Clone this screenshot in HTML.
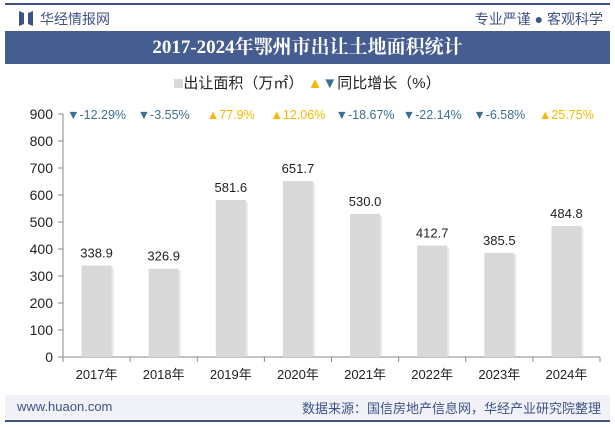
<!DOCTYPE html>
<html><head><meta charset="utf-8"><style>
body{margin:0;width:615px;height:427px;background:#fff;font-family:"Liberation Sans","Noto Sans CJK SC",sans-serif;position:relative;overflow:hidden}
.abs{position:absolute}
</style></head><body>
<div class="abs" style="left:5px;top:3px;width:605px;height:2px;background:#3d5288"></div>
<svg class="abs" style="left:19px;top:11px" width="14" height="15"><polygon points="0,0 5,2 5,13 0,15" fill="#3d5288"/><polygon points="14,0 9,2 9,13 14,15" fill="#3d5288"/></svg>
<div class="abs" style="left:40px;top:9px;font-size:14px;color:#3d5288">华经情报网</div>
<div class="abs" style="right:12px;top:9px;font-size:14px;color:#3d5288">专业严谨 ● 客观科学</div>
<div class="abs" style="left:5px;top:31px;width:605px;height:33px;background:#465d91;color:#fff;font-family:'Liberation Serif','Noto Serif CJK SC',serif;font-weight:bold;font-size:19px;line-height:33px;text-align:center">2017-2024年鄂州市出让土地面积统计</div>
<div class="abs" style="left:0;width:615px;top:72px;text-align:center;font-size:15px;color:#222">
<span><span style="display:inline-block;width:9px;height:9px;background:#d9d9d9"></span>出让面积（万㎡）</span>
<span><span style="color:#f5b800">▲</span><span style="color:#3d7090">▼</span>同比增长（%）</span></div>
<svg class="abs" style="left:0;top:0" width="615" height="427">
<g id="g"></g></svg>
<div class="abs" style="left:5px;top:395px;width:605px;height:24px;background:#f0f2f7"></div>
<div class="abs" style="left:17px;top:399px;font-size:13px;color:#3d5288">www.huaon.com</div>
<div class="abs" style="right:14px;top:398px;font-size:13px;color:#3d5288">数据来源：国信房地产信息网，华经产业研究院整理</div>
<div class="abs" style="left:5px;top:420px;width:605px;height:2px;background:#3d5288"></div>
<script>
const categories=["2017年","2018年","2019年","2020年","2021年","2022年","2023年","2024年"];
const values=[338.9,326.9,581.6,651.7,530.0,412.7,385.5,484.8];
const growth=[-12.29,-3.55,77.9,12.06,-18.67,-22.14,-6.58,25.75];
const growthLabels=["-12.29%","-3.55%","77.9%","12.06%","-18.67%","-22.14%","-6.58%","25.75%"];
const yTicks=[0,100,200,300,400,500,600,700,800,900];
const X0=63,X1=600,Y0=357,Y1=114,YMAX=900;
const bw=(X1-X0)/categories.length;
const y=v=>Y0-(v/YMAX)*(Y0-Y1);
const xc=i=>X0+bw*(i+0.5);
const g=document.getElementById('g');
const NS='http://www.w3.org/2000/svg';
function mk(t,a,txt){const e=document.createElementNS(NS,t);for(const k in a)e.setAttribute(k,a[k]);if(txt!=null)e.textContent=txt;g.appendChild(e);return e;}
let e=mk('line',{x1:X0,y1:Y1,x2:X0,y2:Y0,stroke:'#888'});


e=mk('line',{x1:X0,y1:Y0,x2:X1,y2:Y0,stroke:'#888'});


yTicks.forEach(t=>{
 mk('line',{x1:X0-5,y1:y(t),x2:X0,y2:y(t),stroke:'#888'});
 e=mk('text',{x:X0-10,y:y(t)+5,'text-anchor':'end','font-size':14,fill:'#222'},t);
 
 
});
for(let i=0;i<=categories.length;i++)mk('line',{x1:X0+bw*i,y1:Y0,x2:X0+bw*i,y2:Y0+5,stroke:'#888'});
categories.forEach((c,i)=>{
 const cx=xc(i);
 mk('rect',{x:cx-15+2,y:y(values[i])+2,width:30,height:Y0-y(values[i])-2,fill:'#c8c8c8',opacity:0.4});
 e=mk('rect',{x:cx-15,y:y(values[i]),width:30,height:Y0-y(values[i]),fill:'#d9d9d9'});
 
 
 e=mk('text',{x:cx,y:y(values[i])-8,'text-anchor':'middle','font-size':13,fill:'#222'},values[i].toFixed(1));
 
 
 e=mk('text',{x:cx,y:Y0+22,'text-anchor':'middle','font-size':13,fill:'#222'},c);
 
 
 const up=growth[i]>=0;
 e=mk('text',{x:cx,y:119,'text-anchor':'middle','font-size':12.5,fill:up?'#f5b800':'#3d7090'},(up?'▲':'▼')+growthLabels[i]);
 
 
});
</script>
</body></html>
